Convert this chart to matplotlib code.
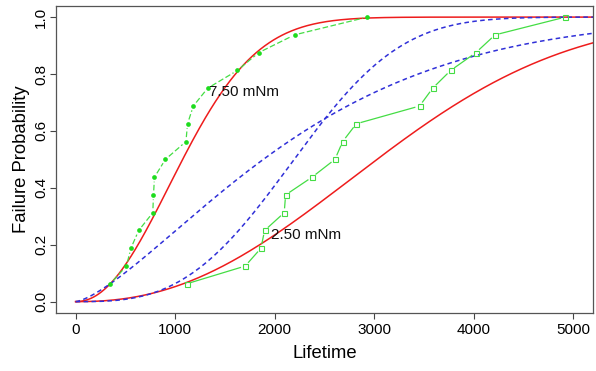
import numpy as np
import matplotlib
matplotlib.use("Agg")
import matplotlib.pyplot as plt

plt.rcParams['font.family'] = ['Liberation Sans', 'DejaVu Sans']

# ---- data ----
life_750 = [348, 510, 555, 633, 775, 782, 792, 902, 1108, 1124, 1182, 1326, 1625, 1838, 2199, 2930]
prob_750 = [0.0625, 0.125, 0.1875, 0.25, 0.3125, 0.375, 0.4375, 0.5, 0.5625, 0.625,
            0.6875, 0.75, 0.8125, 0.875, 0.9375, 1.0]
life_250 = [1114, 1703, 1861, 1898, 2095, 2109, 2375, 2605, 2682, 2819, 3455, 3586, 3767, 4020, 4213, 4919]
prob_250 = [0.0625, 0.125, 0.1875, 0.25, 0.3125, 0.375, 0.4375, 0.5, 0.5625, 0.625,
            0.6875, 0.75, 0.8125, 0.875, 0.9375, 1.0]

# fitted Weibull models (shape, scale)
red_fit = {'7.50': (2.1, 1280.0), '2.50': (2.3, 3550.0)}
blue_fit = {'7.50': (1.4, 2450.0), '2.50': (3.0, 2480.0)}

labels = ['7.50 mNm', '2.50 mNm']
label_pos = [(1340, 0.735), (1960, 0.235)]

x_ticks = [0, 1000, 2000, 3000, 4000, 5000]
y_ticks = [0.0, 0.2, 0.4, 0.6, 0.8, 1.0]
y_ticklabels = ['0.0', '0.2', '0.4', '0.6', '0.8', '1.0']

# ---- figure ----
fig = plt.figure(figsize=(5.96, 3.71), dpi=100)
ax = fig.add_axes([0.0935, 0.1563, 0.902, 0.8283])
ax.set_xlim(-200, 5200)
ax.set_ylim(-0.04, 1.04)

RED = '#ee1c1c'
BLUE = '#3030d8'
GREEN_PT = '#1edc1e'
GREEN_LN = '#44dd44'

xs = np.linspace(0, 5200, 600)
for key in ['7.50', '2.50']:
    k, lam = red_fit[key]
    ax.plot(xs, 1 - np.exp(-(xs / lam) ** k), color=RED, lw=1.1, zorder=2)
    k, lam = blue_fit[key]
    ax.plot(xs, 1 - np.exp(-(xs / lam) ** k), color=BLUE, lw=1.1,
            dashes=(3.0, 2.2), zorder=2)


def gapped(x, y, gap_px, **kw):
    pts = ax.transData.transform(np.column_stack([x, y]))
    inv = ax.transData.inverted()
    for a, b in zip(pts[:-1], pts[1:]):
        d = b - a
        L = np.hypot(*d)
        if L <= 2 * gap_px:
            continue
        u = d / L
        seg = inv.transform(np.array([a + u * gap_px, b - u * gap_px]))
        ax.plot(seg[:, 0], seg[:, 1], **kw)


gapped(life_750, prob_750, 4.5, color=GREEN_LN, lw=0.9, dashes=(4.5, 2.0), zorder=3)
ax.plot(life_750, prob_750, ls='none', marker='o', ms=3.4, color=GREEN_PT,
        markeredgewidth=0, zorder=4)
gapped(life_250, prob_250, 5.0, color=GREEN_LN, lw=0.9, zorder=3)
ax.plot(life_250, prob_250, ls='none', marker='s', ms=3.6, markerfacecolor='none',
        markeredgecolor=GREEN_LN, markeredgewidth=0.8, zorder=4)

for lab, (tx, ty) in zip(labels, label_pos):
    ax.text(tx, ty, lab, ha='left', va='center', fontsize=11, color='#111111')

ax.set_xticks(x_ticks)
ax.set_xticklabels([str(v) for v in x_ticks])
ax.set_yticks(y_ticks)
ax.set_yticklabels(y_ticklabels, rotation=90, va='center')
ax.tick_params(direction='out', length=4.5, width=0.8, color='#444444',
               labelsize=11)
ax.tick_params(axis='x', pad=2.5)
ax.tick_params(axis='y', pad=0.8)
for s in ax.spines.values():
    s.set_color('#555555')
    s.set_linewidth(0.9)

ax.set_xlabel('Lifetime', fontsize=13.3, labelpad=6)
ax.set_ylabel('Failure Probability', fontsize=13.3, labelpad=3.5)

fig.savefig('out.png', dpi=100)
